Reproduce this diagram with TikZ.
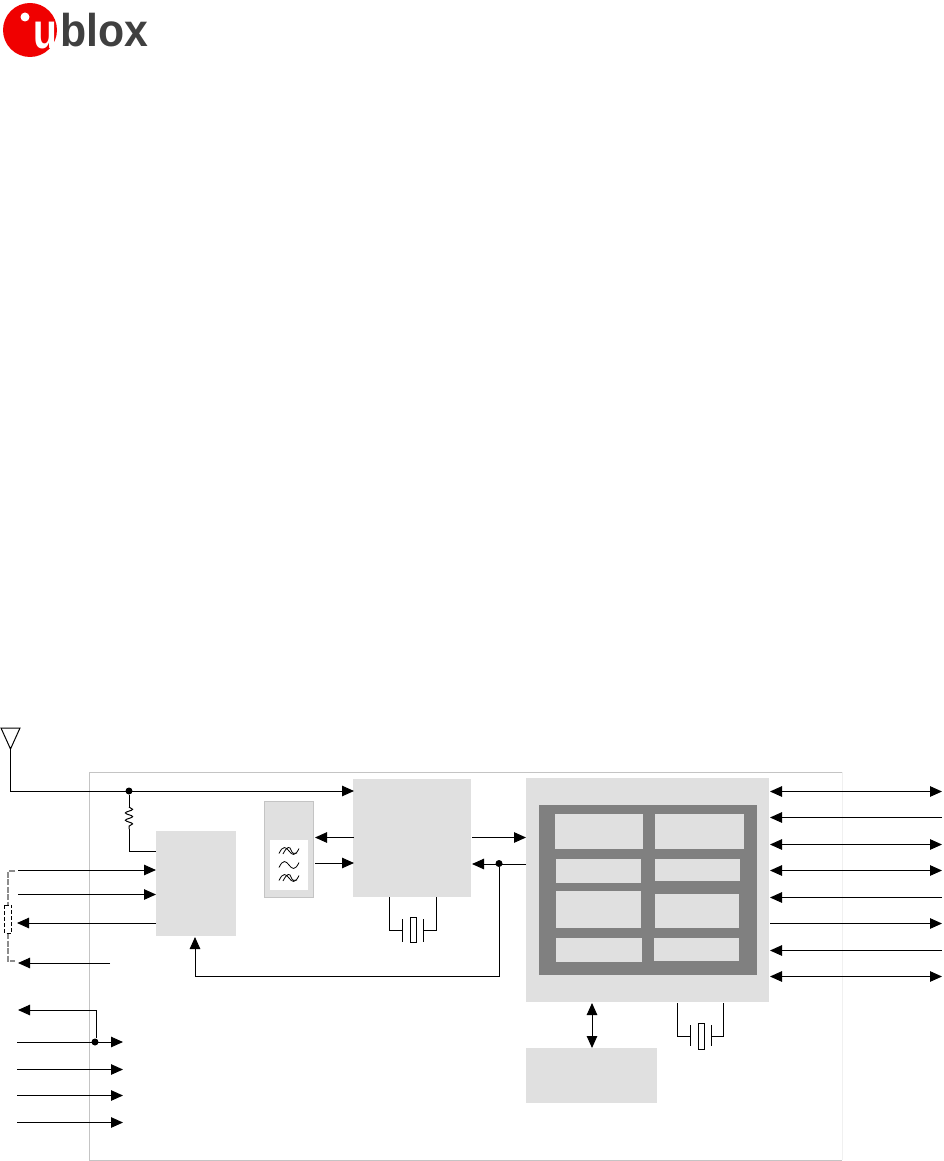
\documentclass[tikz,border=0pt]{standalone}
\usepackage{fontspec}
\setsansfont{Liberation Sans}
\usetikzlibrary{arrows.meta,decorations.pathmorphing}
\definecolor{blockgray}{HTML}{E0E0E0}
\definecolor{ramgray}{HTML}{808080}
\definecolor{framegray}{HTML}{C4C4C4}
\definecolor{wiregray}{HTML}{8C8C8C}
\definecolor{logored}{HTML}{F00000}
\definecolor{logodark}{HTML}{404040}
\tikzset{
  block/.style={fill=blockgray,inner sep=0pt,anchor=north west},
  cell/.style={fill=blockgray,inner sep=0pt,anchor=north west},
  link/.style={line width=1pt,black},
  tiny dot/.style={circle,fill=black,inner sep=0pt,minimum size=7pt},
  out tip/.style={-{Triangle[length=12pt,width=10.5pt]}},
  in tip/.style={{Triangle[length=12pt,width=10.5pt]}-},
  both tip/.style={{Triangle[length=12pt,width=10.5pt]}-{Triangle[length=12pt,width=10.5pt]}},
  plain tip/.style={}
}
\begin{document}
\begin{tikzpicture}[x=1pt,y=-1pt]
  \useasboundingbox (0,0) rectangle (943,1161);
  % logo
  \fill[logored] (30,30) circle (27);
  \fill[white] (25,17) circle (4.5);
  \node[inner sep=0pt,anchor=base west,font=\sffamily\bfseries\fontsize{50}{50}\selectfont,text=white] (logou) at (33,49) {\scalebox{0.78}[1]{u}};
  \node[inner sep=0pt,anchor=base west,font=\sffamily\bfseries\fontsize{46}{46}\selectfont,text=logodark] (logoblox) at (60,47) {\scalebox{0.93}[1]{blox}};
  % module outline
  \draw[framegray,line width=0.9pt] (842,772) -- (89.5,772) -- (89.5,1160) -- (842,1160);
  \draw[black!6,line width=0.9pt] (842,772) -- (842,1160);
  % blocks
  \node[block,minimum width=80pt,minimum height=105pt] (pmu) at (156,831) {};
  \node[block,draw=framegray,line width=0.9pt,minimum width=49pt,minimum height=96pt] (saw) at (264,801) {};
  \node[fill=white,inner sep=0pt,anchor=north west,minimum width=38pt,minimum height=50pt] (sawin) at (270,840) {};
  \node[block,minimum width=118pt,minimum height=118pt] (rfic) at (353,779) {};
  \node[block,minimum width=243pt,minimum height=224pt] (bb) at (526,778) {};
  \node[fill=ramgray,inner sep=0pt,anchor=north west,minimum width=218pt,minimum height=170pt] (core) at (539,805) {};
  \node[block,minimum width=131pt,minimum height=55pt] (flash) at (526,1048) {};
  \node[cell,minimum width=88pt,minimum height=35pt] (cella) at (555,814) {};
  \node[cell,minimum width=89pt,minimum height=35pt] (cellb) at (655,814) {};
  \node[cell,minimum width=85pt,minimum height=24pt] (cellc) at (556,859) {};
  \node[cell,minimum width=85pt,minimum height=22pt] (celld) at (655,859) {};
  \node[cell,minimum width=85pt,minimum height=37pt] (celle) at (556,891) {};
  \node[cell,minimum width=84pt,minimum height=34pt] (cellf) at (655,894) {};
  \node[cell,minimum width=86pt,minimum height=24pt] (cellg) at (556,938) {};
  \node[cell,minimum width=85pt,minimum height=23pt] (cellh) at (654,938) {};
  % antenna and RF input
  \coordinate (anttop) at (10.5,749);
  \coordinate (antcorner) at (10.5,791);
  \coordinate (rfin) at (354,791);
  \draw[link] (1,728) -- (20,728) -- (anttop) -- cycle;
  \node[tiny dot] (rfdot) at (129,791) {};
  \draw[link,out tip] (anttop) -- (antcorner) -- (rfin);
  % choke to power block
  \coordinate (chokea) at (129,807);
  \coordinate (chokeb) at (129,829);
  \coordinate (chokec) at (129,851);
  \coordinate (pmuleft) at (156,851);
  \draw[link] (rfdot) -- (chokea);
  \draw[link,decorate,decoration={snake,segment length=7.3pt,amplitude=3.6pt}] (chokea) -- (chokeb);
  \draw[link] (chokeb) -- (chokec) -- (pmuleft);
  % left signals
  \foreach \nm/\yy/\xa/\xb/\tipst in {pa/870/18/156/out tip,pb/894.5/18/156/out tip,pc/923/156/17/out tip,pd/963/110/18/out tip}{
    \coordinate (\nm s) at (\xa,\yy);
    \coordinate (\nm e) at (\xb,\yy);
    \draw[link,\tipst] (\nm s) -- (\nm e);
  }
  % external divider
  \coordinate (diva) at (15,871);
  \coordinate (divb) at (8,871);
  \coordinate (divc) at (8,905);
  \coordinate (divd) at (8,933);
  \coordinate (dive) at (8,961);
  \coordinate (divf) at (15,961);
  \draw[wiregray,line width=1.2pt,dash pattern=on 6pt off 1.5pt] (diva) -- (divb) -- (divc);
  \draw[wiregray,line width=1.2pt,dash pattern=on 6pt off 1.5pt] (divd) -- (dive) -- (divf);
  \draw[black,line width=1pt,dash pattern=on 4pt off 2pt] (4.5,905) rectangle (11.5,933);
  % filter wiggles
  \foreach \yy in {851,865,878}{
    \draw[black,line width=0.8pt] (279,\yy+2.5) .. controls (283,\yy-6) and (286,\yy-4) .. (289,\yy) .. controls (292,\yy+4) and (295,\yy+6) .. (299,\yy-2.5);
  }
  \foreach \yy in {851,878}{
    \draw[black,line width=0.8pt] (283,\yy+3) .. controls (287,\yy-5) and (290,\yy-5) .. (291,\yy-1) .. controls (292,\yy+3) and (295,\yy+3) .. (297,\yy+2);
  }
  % filter to transceiver
  \coordinate (sawa) at (315,837.5);
  \coordinate (sawb) at (315,863);
  \coordinate (rfa) at (354,837.5);
  \coordinate (rfb) at (354,863);
  \draw[link,out tip] (rfa) -- (sawa);
  \draw[link,out tip] (sawb) -- (rfb);
  % transceiver to baseband
  \coordinate (rfc) at (472,837.5);
  \coordinate (bba) at (526,837.5);
  \coordinate (rfd) at (472,864);
  \coordinate (bbb) at (526,864);
  \coordinate (ldoa) at (499,976);
  \coordinate (ldob) at (195,976);
  \coordinate (ldoc) at (195,937);
  \node[tiny dot] (clkdot) at (499,863.5) {};
  \draw[link,out tip] (rfc) -- (bba);
  \draw[link,out tip] (bbb) -- (rfd);
  \draw[link,out tip] (clkdot) -- (ldoa) -- (ldob) -- (ldoc);
  % crystals
  \foreach \nm/\xa/\xb/\xc/\xd/\xe/\xf/\ya/\yb/\yc/\yd/\ye/\yf in {
    xa/389.5/402/410/416/423.5/436.5/897/930/919/942/917/942,
    xb/677.5/690.5/698/704/711.5/723.5/1003/1036/1025/1046/1023/1049}{
    \coordinate (\nm a) at (\xa,\ya);
    \coordinate (\nm b) at (\xa,\yb);
    \coordinate (\nm c) at (\xb,\yb);
    \coordinate (\nm d) at (\xe,\yb);
    \coordinate (\nm e) at (\xf,\yb);
    \coordinate (\nm f) at (\xf,\ya);
    \draw[link] (\nm a) -- (\nm b) -- (\nm c);
    \draw[link] (\nm d) -- (\nm e) -- (\nm f);
    \draw[link] (\xb,\yc) -- (\xb,\yd);
    \draw[link] (\xe,\yc) -- (\xe,\yd);
    \draw[black,line width=1pt] (\xc,\ye) rectangle (\xd,\yf);
  }
  % baseband to memory
  \coordinate (bbc) at (592,1003);
  \coordinate (flashtop) at (592,1048);
  \draw[link,both tip] (bbc) -- (flashtop);
  % right interfaces
  \foreach \nm/\yy/\tipst in {a/791.5/both tip,b/817.5/in tip,c/844.5/both tip,d/870.5/both tip,e/897.5/in tip,f/923.5/out tip,g/950.5/in tip,h/976.5/both tip}{
    \coordinate (ri\nm) at (770,\yy);
    \coordinate (ro\nm) at (942,\yy);
    \draw[link,\tipst] (ri\nm) -- (ro\nm);
  }
  % bottom left signals
  \coordinate (vcca) at (96,1010);
  \coordinate (vccb) at (18,1010);
  \node[tiny dot] (vccdot) at (95,1042) {};
  \draw[link,out tip] (vccdot.north) ++(1,0) -- (vcca) -- (vccb);
  \foreach \nm/\yy in {qa/1042,qb/1069.5,qc/1095.5,qd/1122.5}{
    \coordinate (\nm s) at (17,\yy);
    \coordinate (\nm e) at (123,\yy);
    \draw[link,out tip] (\nm s) -- (\nm e);
  }
\end{tikzpicture}
\end{document}
